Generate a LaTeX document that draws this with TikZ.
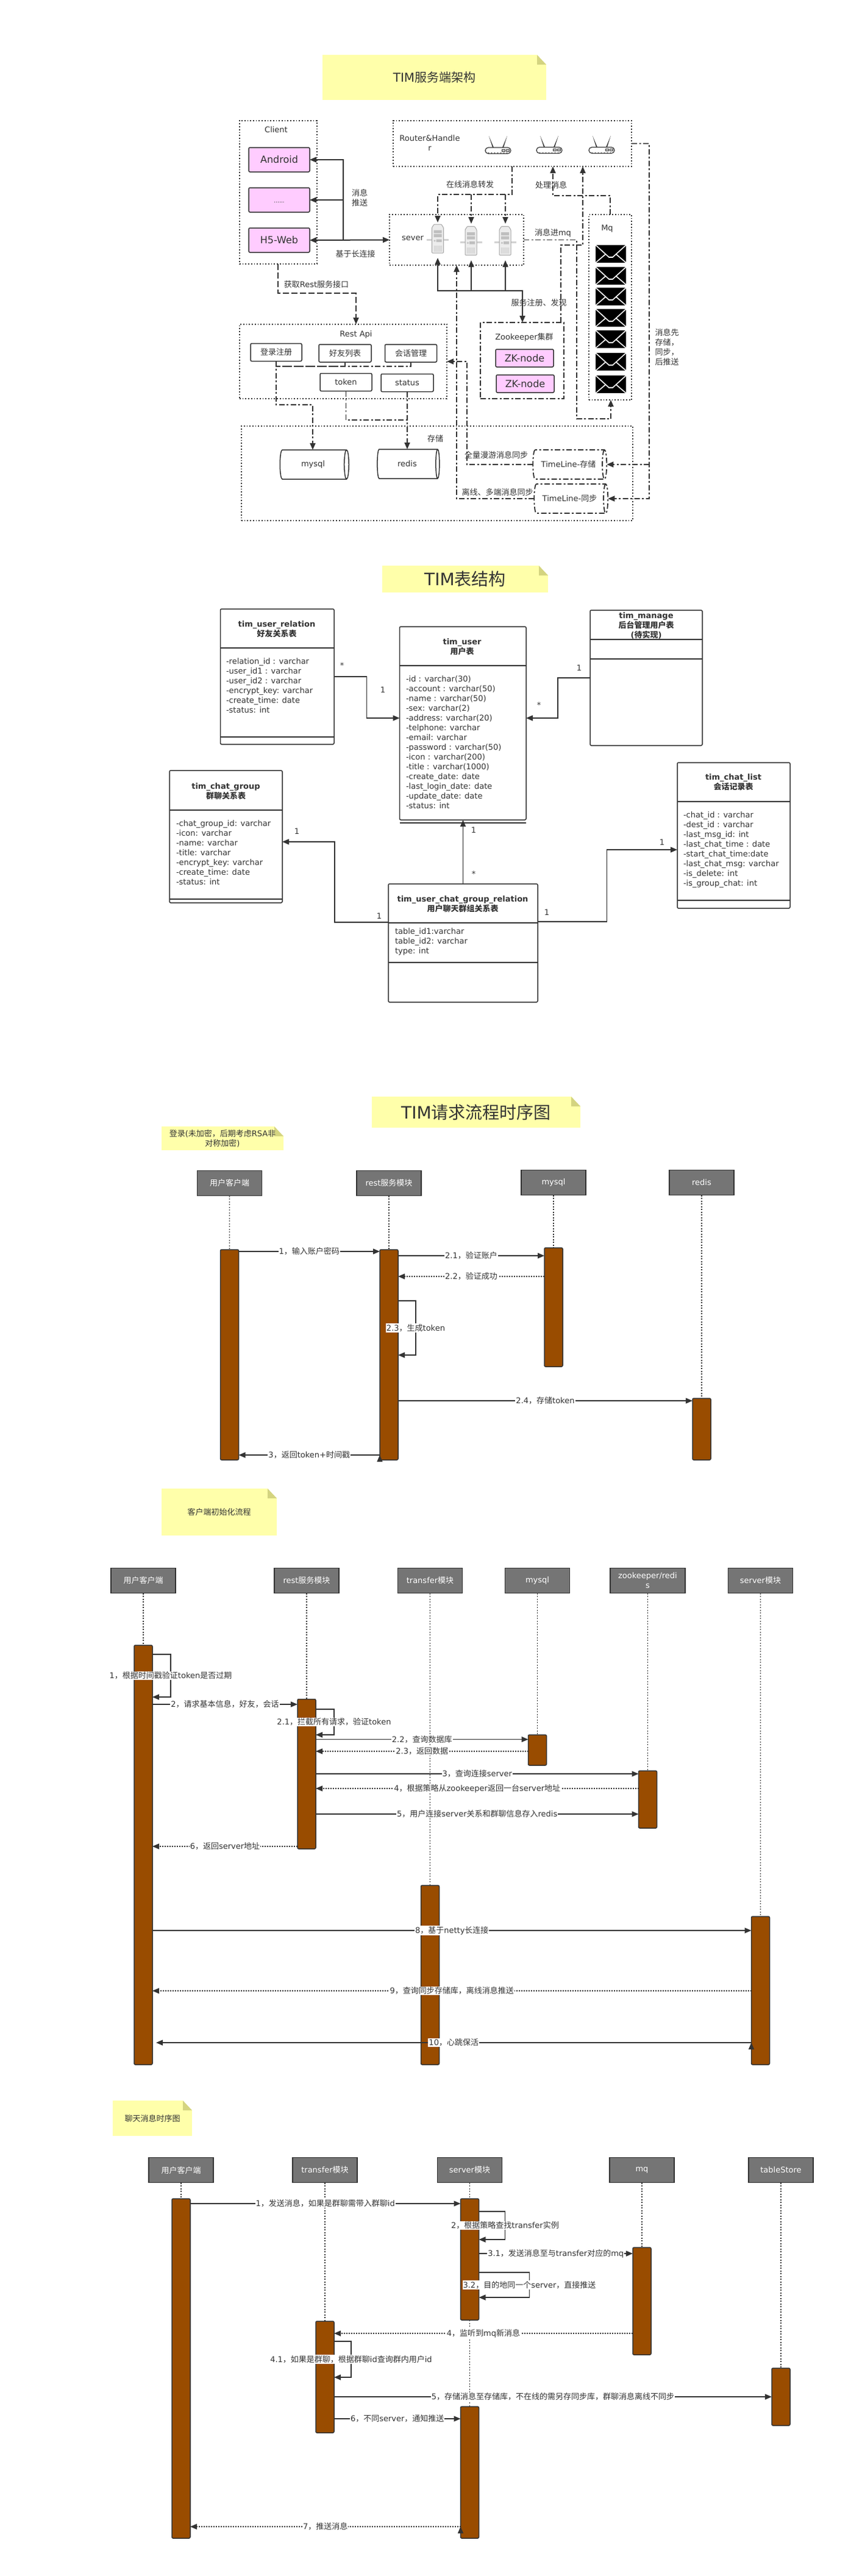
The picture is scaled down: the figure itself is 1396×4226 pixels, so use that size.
\documentclass[tikz,border=0pt]{standalone}
\usepackage{fontspec}
\setmainfont{DejaVu Sans}
\newfontfamily\cjkfont{Noto Sans CJK SC}
% chinese runs switch to the cjk font by themselves
\XeTeXinterchartokenstate=1
\newXeTeXintercharclass\cjkclass
\newcount\cjkcode \cjkcode="4E00
\loop \XeTeXcharclass\cjkcode=\cjkclass \advance\cjkcode by 1 \ifnum\cjkcode<"A000 \repeat
\XeTeXcharclass"FF0C=\cjkclass
\XeTeXcharclass"3001=\cjkclass
\XeTeXinterchartoks 0 \cjkclass={\begingroup\cjkfont}
\XeTeXinterchartoks 4095 \cjkclass={\begingroup\cjkfont}
\XeTeXinterchartoks \cjkclass 0={\endgroup}
\XeTeXinterchartoks \cjkclass 4095={\endgroup}
\usetikzlibrary{arrows.meta,
							quotes,
							shapes.geometric}
\definecolor{linecol}{HTML}{333333}
\definecolor{pinkcol}{HTML}{FFCCFF}
\definecolor{notecol}{HTML}{FFFFAA}
\definecolor{foldcol}{HTML}{D4D480}
\definecolor{headcol}{HTML}{757575}
\definecolor{barcol}{HTML}{994C00}
\tikzset{
routerpic/.pic = {
	\fill (-9,-5) -- (-15,-24) -- (-7,-5) -- cycle;
	\fill (9,-5) -- (15,-24) -- (7,-5) -- cycle;
	\draw [fill=white, rounded corners=5pt, line width=1.2pt] (-21,-5) rectangle (21,5);
	\draw [line width=.7pt] (6,-2) rectangle (11,1) (13,-2) rectangle (18,1);
	\foreach \i in {-16,-11,...,16} {\draw [line width=.6pt] (\i,3) -- (\i,5);}
},
serverpic/.pic = {
	\fill [gray!35] (-18,.5) rectangle (18,3.5);
	\draw [gray!70, fill=gray!15, line width=1pt, rounded corners=1pt]
		(-9.5,23.5) -- (-9.5,-18) -- (-6,-23.5) -- (6,-23.5) -- (9.5,-18) -- (9.5,23.5) -- cycle;
	\fill [gray!50] (-6.5,-14) rectangle (6.5,-9) (-6.5,-7.5) rectangle (6.5,-2.5) (-2.5,1) rectangle (6.5,5.5);
	\draw [gray!60, line width=.6pt] (-5,3.5) circle (1.2);
	\foreach \i in {-6,-4,...,6} {\draw [gray!40, line width=.6pt] (\i,11) -- (\i,21);}
},
mailpic/.pic = {
	\fill [black] (-25,-14.5) rectangle (25,14.5);
	\draw [white, line width=1.6pt] (-25,-14.5) -- (-3,5.5) -- (3,5.5) -- (25,-14.5);
	\draw [white, line width=1.6pt] (-25,14.5) -- (-8,0) (25,14.5) -- (8,0);
}}

\begin{document}
\begin{tikzpicture}[
	x=1pt, y=-1pt,
	color=linecol, line width=1.5pt,
	font=\fontsize{13}{16}\selectfont,
	>={Triangle[length=11pt,width=9pt]},
	every node/.style = {inner sep=0pt, outer sep=0pt},
	every edge quotes/.style = {fill=white, auto=false, inner sep=1pt},
	notebox/.style = {fill=notecol, align=center,
										path picture={
											\fill [white] ([xshift=-15pt]path picture bounding box.north east) --
												(path picture bounding box.north east) --
												([yshift=-16pt]path picture bounding box.north east) -- cycle;
											\fill [foldcol] ([xshift=-15pt]path picture bounding box.north east) --
												([xshift=-15pt,yshift=-16pt]path picture bounding box.north east) --
												([yshift=-16pt]path picture bounding box.north east) -- cycle;}},
	dotbox/.style = {draw, line width=1.8pt, dash pattern=on 1.7pt off 3pt},
	dashdotline/.style = {line width=1.8pt, dash pattern=on 9pt off 3.5pt on 3pt off 3.5pt},
	longdash/.style = {line width=1.8pt, dash pattern=on 10pt off 4pt},
	pinkbox/.style = {draw, rounded corners=2pt, fill=pinkcol, font=\fontsize{16}{20}\selectfont},
	apibox/.style = {draw, rounded corners=2pt, minimum height=29pt},
	dbcyl/.style = {cylinder, draw, shape aspect=.6, minimum height=113pt, minimum width=48pt},
	classbox/.style = {draw, rounded corners=2pt},
	classname/.style = {align=center, font=\fontsize{13}{16}\selectfont\bfseries},
	attrs/.style = {align=left, anchor=north west},
	head/.style = {draw, fill=headcol, text=white, align=center, minimum width=106pt, minimum height=41pt},
	bar/.style = {draw, fill=barcol, rounded corners=2pt, minimum width=30pt},
	life/.style = {line width=1.2pt, dash pattern=on 2.2pt off 2.3pt},
	dots/.style = {dash pattern=on 2pt off 2pt},
	msglabel/.style = {fill=white, inner sep=1pt}]

\path [fill=white, use as bounding box] (0,0) rectangle (1396,4226);

%% server side
\node [notebox, minimum width=367pt, minimum height=74pt, font=\fontsize{20}{24}\selectfont]
	(title1) at (712.5,127) {TIM服务端架构};
\node [dotbox, minimum width=127pt, minimum height=235pt] (client) at (456.5,315.5) {};
\node [dotbox, minimum width=391pt, minimum height=75pt] (router) at (840.5,235.5) {};
\node [dotbox, minimum width=220pt, minimum height=83pt] (sever) at (749,393.5) {};
\node [dotbox, minimum width=70pt, minimum height=304pt] (mq) at (1001,504) {};
\node [dotbox, minimum width=340pt, minimum height=122pt] (rest) at (563,593) {};
\node [dotbox, minimum width=642pt, minimum height=155pt] (store) at (717,776.5) {};
\node [draw, dashdotline, minimum width=137pt, minimum height=125pt] (zk) at (856.5,591.5) {};

\node (clientname) at (453,213) {Client};
\node [pinkbox, minimum width=100pt, minimum height=40pt] (android) at (458,262) {Android};
\node [pinkbox, minimum width=100pt, minimum height=40pt] (others) at (458,328) {};
\node [font=\fontsize{9}{11}\selectfont] (otherdots) at (458,332) {......};
\node [pinkbox, minimum width=100pt, minimum height=40pt] (h5) at (458,394) {H5-Web};

\node [align=center] (routername) at (705,235) {Router\&Handle\\r};
\pic at (817,247) {routerpic};
\pic at (901,246.5) {routerpic};
\pic at (987,246.5) {routerpic};

\node (severname) at (677,391) {sever};
\pic at (718,391.5) {serverpic};
\pic at (772.5,395) {serverpic};
\pic at (828.5,395) {serverpic};
\coordinate (srv1) at (718,365);
\coordinate (srv2) at (773,367);
\coordinate (srv3) at (829,367);
\coordinate (srv1b) at (718,423);
\coordinate (srv2b) at (773,427);
\coordinate (srv3b) at (829,427);

\node (mqname) at (996,375) {Mq};
\foreach \y in {416.5,452.5,486.5,521.5,556.5,593.5,630.5}
	{\pic at (1002,\y) {mailpic};}

\node (restname) at (584,549) {Rest Api};
\node [apibox, minimum width=84pt] (login) at (453,578) {登录注册};
\node [apibox, minimum width=86pt] (friends) at (566,579.5) {好友列表};
\node [apibox, minimum width=85pt] (session) at (674,579.5) {会话管理};
\node [apibox, minimum width=85pt] (token) at (567.5,627) {token};
\node [apibox, minimum width=86pt] (status) at (668,628) {status};

\node (zkname) at (860,553) {Zookeeper集群};
\node [pinkbox, minimum width=95pt, minimum height=29pt] (zk1) at (860.5,587.5) {ZK-node};
\node [pinkbox, minimum width=95pt, minimum height=29pt] (zk2) at (861.5,629.5) {ZK-node};

\node (storename) at (714,720) {存储};
\node [dbcyl, fill=white] (mysql) at (513.5,762) {mysql};
\node [dbcyl, fill=white, minimum height=102pt] (redis) at (668,761) {redis};
\node [dbcyl, dashdotline, minimum height=121pt] (tl1) at (932.5,762) {TimeLine-存储};
\node [dbcyl, dashdotline, minimum height=121pt] (tl2) at (934.5,818) {TimeLine-同步};

\draw [<->, line width=2pt] (h5.east) -- (sever.west);
\draw [->] (h5.east -| 563,0) |- (android.east);
\draw [->] (h5.east -| 563,0) |- (others.east);
\node [align=center] (pushlabel) at (590,324) {消息\\推送};
\node (longlabel) at (583,417) {基于长连接};

\draw [->, dashdotline] (router.south -| 840,0) |- (srv1 |- 0,319) -- (srv1);
\draw [->, dashdotline] (srv2 |- 0,319) -- (srv2);
\draw [->, dashdotline] (srv3 |- 0,319) -- (srv3);
\node (onlinelabel) at (771,303) {在线消息转发};
\draw [->, dashdotline] (mq.north -| 1001,0) |- (907,321) -- (router.south -| 907,0);
\node (handlelabel) at (904,303) {处理消息};
\draw [->, dashdotline] (zk.north -| 920,0) |- (956,402) -- (router.south -| 956,0);
\draw [->, dashdotline] (sever.east) -| (946,687) -| (mq.south -| 1002,0);
\node (tomqlabel) at (907,382) {消息进mq};

\draw [<->, line width=2pt] (srv1b) |- (857,477) -- (zk.north -| 857,0);
\draw [->] (srv2b |- 0,477) -- (srv2b);
\draw [->] (srv3b |- 0,477) -- (srv3b);
\node (reglabel) at (884,497) {服务注册、发现};

\draw [->, longdash] (client.south -| 456,0) |- (584,481) -- (rest.north -| 584,0);
\node (restlabel) at (519,467) {获取Rest服务接口};

\draw [->, dashdotline] (login.south) |- (513,664) -- (mysql.north -| 513,0);
\draw [dashdotline] (friends.south) |- (login.south |- 0,601);
\draw [dashdotline] (session.south) |- (login.south |- 0,601);
\draw [dashdotline] (token.south) |- (status.south |- 0,689);
\draw [->, dashdotline] (status.south) -- (status.south |- redis.north);

\draw [->, dashdotline] (tl1.west) -| (766,593) -- (rest.east |- 0,593);
\node (fulllabel) at (814,746) {全量漫游消息同步};
\draw [->, dashdotline] (tl2.west) -| (sever.south -| 749,0);
\node (offlinelabel) at (816,807) {离线、多端消息同步};
\draw [->, dashdotline] (router.east) -| (1065,818) -- (tl2.east);
\draw [->, dashdotline] (tl1.east -| 1065,0) -- (tl1.east);
\node [align=center] (storelabel) at (1094,570) {消息先\\存储，\\同步，\\后推送};

%% tables
\node [notebox, minimum width=272pt, minimum height=44pt, font=\fontsize{28}{32}\selectfont]
	(title2) at (763,950) {TIM表结构};

\node [classbox, minimum width=186.5pt, minimum height=222pt] (relation) at (454.75,1110) {};
\node [classname] (relationname) at (454,1032) {tim\_user\_relation\\好友关系表};
\node [attrs] (relationattrs) at (371,1080) {-relation\_id : varchar\\-user\_id1 : varchar\\-user\_id2 : varchar\\-encrypt\_key: varchar\\-create\_time: date\\-status: int};
\draw (relation.west |- 0,1063) -- (relation.east |- 0,1063);
\draw (relation.west |- 0,1209) -- (relation.east |- 0,1209);

\node [classbox, minimum width=207.5pt, minimum height=317pt] (tuser) at (759.25,1186.5) {};
\node [classname] (tusername) at (758,1061) {tim\_user\\用户表};
\node [attrs] (tuserattrs) at (666,1109) {-id : varchar(30)\\-account : varchar(50)\\-name : varchar(50)\\-sex: varchar(2)\\-address: varchar(20)\\-telphone: varchar\\-email: varchar\\-password : varchar(50)\\-icon : varchar(200)\\-title : varchar(1000)\\-create\_date: date\\-last\_login\_date: date\\-update\_date: date\\-status: int};
\draw (tuser.west |- 0,1092) -- (tuser.east |- 0,1092);
\draw (tuser.west |- 0,1350) -- (tuser.east |- 0,1350);

\node [classbox, minimum width=184pt, minimum height=222pt] (manage) at (1060,1112) {};
\node [classname] (managename) at (1060,1026) {tim\_manage\\后台管理用户表\\(待实现)};
\draw (manage.west |- 0,1049) -- (manage.east |- 0,1049);
\draw (manage.west |- 0,1081) -- (manage.east |- 0,1081);

\node [classbox, minimum width=185pt, minimum height=217pt] (group) at (370.5,1372.5) {};
\node [classname] (groupname) at (370.5,1298) {tim\_chat\_group\\群聊关系表};
\node [attrs] (groupattrs) at (289,1346) {-chat\_group\_id: varchar\\-icon: varchar\\-name: varchar\\-title: varchar\\-encrypt\_key: varchar\\-create\_time: date\\-status: int};
\draw (group.west |- 0,1329) -- (group.east |- 0,1329);
\draw (group.west |- 0,1475) -- (group.east |- 0,1475);

\node [classbox, minimum width=185pt, minimum height=239pt] (list) at (1203.5,1370.5) {};
\node [classname] (listname) at (1203,1283) {tim\_chat\_list\\会话记录表};
\node [attrs] (listattrs) at (1121,1332) {-chat\_id : varchar\\-dest\_id :  varchar\\-last\_msg\_id: int\\-last\_chat\_time : date\\-start\_chat\_time:date\\-last\_chat\_msg: varchar\\-is\_delete: int\\-is\_group\_chat: int};
\draw (list.west |- 0,1315) -- (list.east |- 0,1315);
\draw (list.west |- 0,1477) -- (list.east |- 0,1477);

\node [classbox, minimum width=245pt, minimum height=194pt] (rel) at (759.5,1547) {};
\node [classname] (relname) at (759,1483) {tim\_user\_chat\_group\_relation\\用户聊天群组关系表};
\node [attrs] (relattrs) at (648,1523) {table\_id1:varchar\\table\_id2: varchar\\type: int};
\draw (rel.west |- 0,1514) -- (rel.east |- 0,1514);
\draw (rel.west |- 0,1579) -- (rel.east |- 0,1579);

\draw [->] (relation.east |- 0,1110) -| (601.5,1178) -- (tuser.west |- 0,1178);
\node (m1) at (561,1092) {*};
\node (m2) at (628,1132) {1};
\draw [->] (manage.west |- 0,1112) -| (915,1178) -- (tuser.east |- 0,1178);
\node (m3) at (950,1096) {1};
\node (m4) at (884,1157) {*};
\draw [->] (rel.north) -- (rel.north |- tuser.south);
\node (m5) at (777,1362) {1};
\node (m6) at (777,1434) {*};
\draw [->] (rel.west |- 0,1513) -| (549,1381) -- (group.east |- 0,1381);
\node (m7) at (622,1503) {1};
\node (m8) at (487,1364) {1};
\draw [->] (rel.east |- 0,1512) -| (995.5,1394) -- (list.west |- 0,1394);
\node (m9) at (897,1497) {1};
\node (m10) at (1086,1382) {1};

%% login sequence
\node [notebox, minimum width=342pt, minimum height=51pt, font=\fontsize{28}{32}\selectfont]
	(title3) at (781,1824.5) {TIM请求流程时序图};
\node [notebox, minimum width=200pt, minimum height=39pt] (note1) at (365,1867.5) {登录(未加密，后期考虑RSA非\\对称加密)};

\node [head] (L-user) at (376.5,1941) {用户客户端};
\node [head] (L-rest) at (638,1941) {rest服务模块};
\node [head] (L-mysql) at (908,1940) {mysql};
\node [head] (L-redis) at (1151,1940) {redis};
\node [bar, minimum height=345pt] (L-userb) at (376.5,2222.5) {};
\node [bar, minimum height=345pt] (L-restb) at (638,2222.5) {};
\node [bar, minimum height=195pt] (L-mysqlb) at (908,2144.5) {};
\node [bar, minimum height=101pt] (L-redisb) at (1151,2344.5) {};
\draw [life]
	(L-user) -- (L-userb)
	(L-rest) -- (L-restb)
	(L-mysql) -- (L-mysqlb)
	(L-redis) -- (L-redisb);
\draw [->]
	(L-userb.east |- 0,2053) edge["1，输入账户密码"]      (L-restb.west |- 0,2053)
	(L-restb.east |- 0,2060) edge["2.1，验证账户"]        (L-mysqlb.west |- 0,2060)
	(L-mysqlb.west |- 0,2094) edge[dots,"2.2，验证成功"]  (L-restb.east |- 0,2094)
	(L-restb.east |- 0,2298) edge["2.4，存储token"]       (L-redisb.west |- 0,2298)
	(L-restb.west |- 0,2387) edge["3，返回token+时间戳"]  (L-userb.east |- 0,2387);
\draw [->] (L-restb.east |- 0,2134) -- ++(29,0)
	|- node [msglabel, pos=.25] {2.3，生成token} (L-restb.east |- 0,2223);

%% client init sequence
\node [notebox, minimum width=189pt, minimum height=77pt] (note2) at (359.5,2480.5) {客户端初始化流程};

\node [head] (I-user) at (235,2593) {用户客户端};
\node [head] (I-rest) at (503,2593) {rest服务模块};
\node [head] (I-trans) at (705.5,2593) {transfer模块};
\node [head] (I-mysql) at (881.5,2593) {mysql};
\node [head, minimum width=123pt] (I-zk) at (1062.5,2593) {zookeeper/redi\\s};
\node [head] (I-srv) at (1247.5,2593) {server模块};
\node [bar, minimum height=688pt] (I-userb) at (235,3043) {};
\node [bar, minimum height=245.5pt] (I-restb) at (503,2910.25) {};
\node [bar, minimum height=50pt] (I-mysqlb) at (881.5,2871) {};
\node [bar, minimum height=94pt] (I-zkb) at (1062.5,2952) {};
\node [bar, minimum height=294pt] (I-transb) at (705.5,3240) {};
\node [bar, minimum height=243pt] (I-srvb) at (1247.5,3265.5) {};
\draw [life]
	(I-user) -- (I-userb)
	(I-rest) -- (I-restb)
	(I-trans) -- (I-transb)
	(I-mysql) -- (I-mysqlb)
	(I-zk) -- (I-zkb)
	(I-srv) -- (I-srvb);
\draw [->]
	(I-userb.east |- 0,2796) edge["2，请求基本信息，好友，会话"]  (I-restb.west |- 0,2796)
	(I-restb.east |- 0,2853.5) edge["2.2，查询数据库"]            (I-mysqlb.west |- 0,2853.5)
	(I-mysqlb.west |- 0,2873) edge[dots,"2.3，返回数据"]          (I-restb.east |- 0,2873)
	(I-restb.east |- 0,2910) edge["3，查询连接server"]            (I-zkb.west |- 0,2910)
	(I-zkb.west |- 0,2934) edge[dots,"4，根据策略从zookeeper返回一台server地址"] (I-restb.east |- 0,2934)
	(I-restb.east |- 0,2976) edge["5，用户连接server关系和群聊信息存入redis"]    (I-zkb.west |- 0,2976)
	(I-restb.west |- 0,3029) edge[dots,"6，返回server地址"]       (I-userb.east |- 0,3029)
	(I-userb.east |- 0,3167) edge["8，基于netty长连接"]           (I-srvb.west |- 0,3167)
	(I-srvb.west |- 0,3266) edge[dots,"9，查询同步存储库，离线消息推送"] (I-userb.east |- 0,3266)
	(I-srvb.west |- 0,3351) edge["10，心跳保活"]                  ([xshift=6pt]I-userb.east |- 0,3351);
\draw [->] (I-userb.east |- 0,2714) -- ++(30,0)
	|- node [msglabel, pos=.25] {1，根据时间戳验证token是否过期} (I-userb.east |- 0,2784);
\draw [->] (I-restb.east |- 0,2804) -- ++(30,0)
	|- node [msglabel, pos=.25] {2.1，拦截所有请求，验证token} (I-restb.east |- 0,2846);

%% chat message sequence
\node [notebox, minimum width=130pt, minimum height=58pt] (note3) at (250,3475) {聊天消息时序图};

\node [head] (C-user) at (297,3560) {用户客户端};
\node [head] (C-trans) at (533,3560) {transfer模块};
\node [head] (C-srv) at (770.5,3560) {server模块};
\node [head] (C-mq) at (1053,3560) {mq};
\node [head] (C-ts) at (1281,3560) {tableStore};
\node [bar, minimum height=557pt] (C-userb) at (297,3885.5) {};
\node [bar, minimum height=199pt] (C-srvb) at (770.5,3706.5) {};
\node [bar, minimum height=176pt] (C-mqb) at (1053,3775) {};
\node [bar, minimum height=183pt] (C-transb) at (533,3899.5) {};
\node [bar, minimum height=94pt] (C-tsb) at (1281,3932) {};
\node [bar, minimum height=216pt] (C-srvc) at (770.5,4056) {};
\draw [life]
	(C-user) -- (C-userb)
	(C-trans) -- (C-transb)
	(C-srv) -- (C-srvb)
	(C-mq) -- (C-mqb)
	(C-ts) -- (C-tsb)
	(C-srvb) -- (C-srvc);
\draw [->]
	(C-userb.east |- 0,3615) edge["1，发送消息，如果是群聊需带入群聊id"]  (C-srvb.west |- 0,3615)
	(C-srvb.east |- 0,3697) edge["3.1，发送消息至与transfer对应的mq"]     (C-mqb.west |- 0,3697)
	(C-mqb.west |- 0,3828) edge[dots,"4，监听到mq新消息"]                 (C-transb.east |- 0,3828)
	(C-transb.east |- 0,3932) edge["5，存储消息至存储库，不在线的需另存同步库，群聊消息离线不同步"] (C-tsb.west |- 0,3932)
	(C-transb.east |- 0,3968) edge["6，不同server，通知推送"]             (C-srvc.west |- 0,3968)
	(C-srvc.west |- 0,4145) edge[dots,"7，推送消息"]                      (C-userb.east |- 0,4145);
\draw [->] (C-srvb.east |- 0,3628) -- ++(43,0)
	|- node [msglabel, pos=.25] {2，根据策略查找transfer实例} (C-srvb.east |- 0,3674);
\draw [->] (C-srvb.east |- 0,3728) -- ++(83,0)
	|- node [msglabel, pos=.25] {3.2，目的地同一个server，直接推送} (C-srvb.east |- 0,3769);
\draw [->] (C-transb.east |- 0,3841) -- ++(28,0)
	|- node [msglabel, pos=.25] {4.1，如果是群聊，根据群聊id查询群内用户id} (C-transb.east |- 0,3900);
\end{tikzpicture}
\end{document}
